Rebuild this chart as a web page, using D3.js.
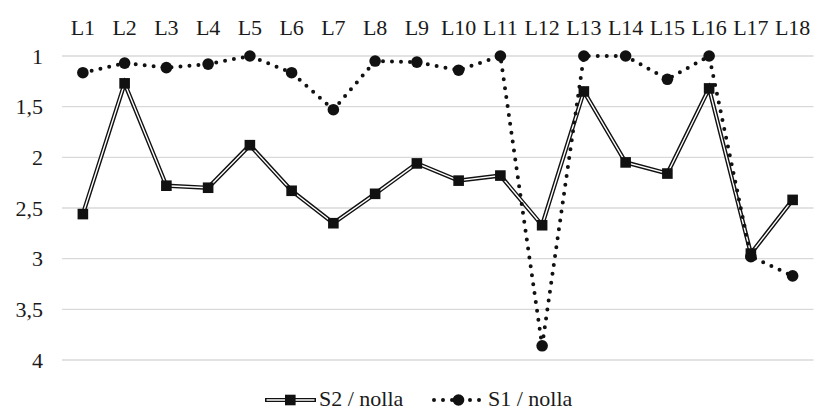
<!DOCTYPE html>
<html><head><meta charset="utf-8">
<script src="https://cdn.jsdelivr.net/npm/d3@7"></script>
</head><body><svg id="c" width="815" height="410"></svg>
<script>
const categories = ["L1","L2","L3","L4","L5","L6","L7","L8","L9","L10","L11","L12","L13","L14","L15","L16","L17","L18"];
const s2Name = "S2 / nolla";
const s2Values = [2.56,1.27,2.28,2.30,1.88,2.33,2.65,2.36,2.06,2.23,2.18,2.67,1.35,2.05,2.16,1.32,2.95,2.42];
const s1Name = "S1 / nolla";
const s1Values = [1.165,1.07,1.115,1.08,1.0,1.165,1.53,1.05,1.06,1.14,1.0,3.86,1.0,1.0,1.23,1.0,2.98,3.17];
const yTicks = [1,1.5,2,2.5,3,3.5,4];

d3.select("body").style("margin", "0px");
d3.select("#c").style("display", "block");
const svg = d3.select("#c");
const styleText = sel => sel.style("font-family", "\"Liberation Serif\"").style("font-size", "22px").attr("fill", "#1a1a1a");
const x = d3.scaleBand().domain(categories).range([62, 813.5]);
const y = d3.scaleLinear().domain([1,4]).range([56, 360]);
const cx = d => x(d) + x.bandwidth()/2;
const fmt = v => String(v).replace(".", ",");

svg.append("g").selectAll("line").data(yTicks).join("line")
  .attr("x1", 62).attr("x2", 813.5)
  .attr("y1", d => y(d)).attr("y2", d => y(d))
  .attr("stroke", "#d9d9d9").attr("stroke-width", 1.3);

const yAxis = d3.axisLeft(y).tickValues(yTicks).tickFormat(fmt).tickSize(0).tickPadding(0);
const gy = svg.append("g").attr("transform", "translate(43,0)").call(yAxis);
gy.attr("font-family", null).attr("font-size", null);
gy.select(".domain").remove();
gy.selectAll("text").call(styleText).attr("dy", "0.33em");

const xAxis = d3.axisTop(x).tickSize(0).tickPadding(0);
const gx = svg.append("g").attr("transform", "translate(0,35)").call(xAxis);
gx.attr("font-family", null).attr("font-size", null);
gx.select(".domain").remove();
gx.selectAll("text").call(styleText);

const line = d3.line().x((d,i) => cx(categories[i])).y(d => y(d));

svg.append("path").datum(s2Values).attr("d", line).attr("fill","none")
  .attr("stroke","#111").attr("stroke-width",4.2).attr("stroke-linejoin","miter");
svg.append("path").datum(s2Values).attr("d", line).attr("fill","none")
  .attr("stroke","#fff").attr("stroke-width",1.4);

svg.append("path").datum(s1Values).attr("d", line).attr("fill","none")
  .attr("stroke","#111").attr("stroke-width",4).attr("stroke-linecap","round")
  .attr("stroke-dasharray","0,9");

svg.append("g").selectAll("circle").data(s1Values).join("circle")
  .attr("cx",(d,i)=>cx(categories[i])).attr("cy",d=>y(d)).attr("r",5.8).attr("fill","#111");
svg.append("g").selectAll("rect").data(s2Values).join("rect")
  .attr("x",(d,i)=>cx(categories[i])-5.3).attr("y",d=>y(d)-5.3)
  .attr("width",10.6).attr("height",10.6).attr("fill","#111");

const ly = 400;
const tb = 405.5;
const lg = svg.append("g");
lg.append("line").attr("x1",265).attr("x2",316).attr("y1",ly).attr("y2",ly)
  .attr("stroke","#111").attr("stroke-width",4.2);
lg.append("line").attr("x1",266.5).attr("x2",314.5).attr("y1",ly).attr("y2",ly)
  .attr("stroke","#fff").attr("stroke-width",1.4);
lg.append("rect").attr("x",285).attr("y",ly-5.3).attr("width",10.6).attr("height",10.6).attr("fill","#111");
lg.append("text").attr("x",319).attr("y",tb).call(styleText).text(s2Name);
lg.append("line").attr("x1",434).attr("x2",483).attr("y1",ly).attr("y2",ly)
  .attr("stroke","#111").attr("stroke-width",4).attr("stroke-linecap","round").attr("stroke-dasharray","0,9");
lg.append("circle").attr("cx",458.5).attr("cy",ly).attr("r",5.8).attr("fill","#111");
lg.append("text").attr("x",488).attr("y",tb).call(styleText).text(s1Name);
</script></body></html>
